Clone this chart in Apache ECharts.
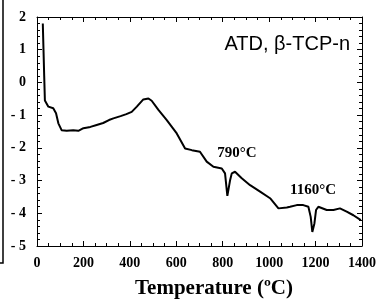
<!DOCTYPE html>
<html><head><meta charset="utf-8">
<script src="https://cdn.jsdelivr.net/npm/echarts@6/dist/echarts.min.js"></script>
<style>html,body{margin:0;padding:0;background:#fff}#c{width:384px;height:299px}</style>
</head><body><div id="c"></div>
<script>
const temps = [25,28,31,34,49,70,82,92,106,128,156,178,200,230,257,285,310,329,360,385,408,430,458,480,494,523,559,602,638,667,702,731,760,796,810,820,832,839,853,882,918,961,1004,1040,1076,1090,1119,1147,1169,1179,1186,1195,1202,1212,1248,1277,1305,1334,1363,1395];
const dta =   [1.8,1.0,0.2,-0.55,-0.74,-0.79,-0.94,-1.25,-1.46,-1.48,-1.46,-1.48,-1.40,-1.36,-1.30,-1.24,-1.15,-1.10,-1.03,-0.97,-0.90,-0.74,-0.52,-0.49,-0.56,-0.84,-1.15,-1.56,-2.02,-2.07,-2.12,-2.42,-2.58,-2.63,-2.78,-3.47,-2.98,-2.78,-2.73,-2.93,-3.14,-3.34,-3.54,-3.85,-3.82,-3.80,-3.75,-3.75,-3.80,-4.11,-4.57,-4.31,-3.90,-3.80,-3.90,-3.90,-3.85,-3.95,-4.06,-4.21];
const xTicks = [0,200,400,600,800,1000,1200,1400];
const yTicks = [-5,-4,-3,-2,-1,0,1,2];
const annotations = [{text:'790\u00B0C', x:237, y:153},{text:'1160\u00B0C', x:313, y:190}];
const label = 'ATD, \u03B2-TCP-n';
const axisTitle = 'Temperature (\u00BAC)';

const chart = echarts.init(document.getElementById('c'));
const serif = 'Liberation Serif';
const tickStyle = {show:true, inside:true, length:5, lineStyle:{color:'#000', width:1}};
const minorStyle = {show:true, length:3, lineStyle:{color:'#000', width:1}};
const line = {show:true, onZero:false, lineStyle:{color:'#000', width:1}};
chart.setOption({
  animation:false,
  grid:{left:37, right:22, top:17, bottom:53},
  xAxis:[
    {type:'value', min:xTicks[0], max:xTicks[xTicks.length-1], interval:200, position:'bottom',
     axisLine:line, axisTick:tickStyle,
     minorTick:Object.assign({splitNumber:4}, minorStyle), splitLine:{show:false},
     axisLabel:{color:'#000', fontFamily:serif, fontWeight:'bold', fontSize:14, margin:10, formatter:v=>String(v)}},
    {type:'value', min:xTicks[0], max:xTicks[xTicks.length-1], interval:200, position:'top',
     axisLine:line, axisTick:tickStyle,
     minorTick:Object.assign({splitNumber:4}, minorStyle), splitLine:{show:false}, axisLabel:{show:false}}
  ],
  yAxis:[
    {type:'value', min:yTicks[0], max:yTicks[yTicks.length-1], interval:1, position:'left',
     axisLine:line, axisTick:tickStyle,
     minorTick:Object.assign({splitNumber:5}, minorStyle), splitLine:{show:false},
     axisLabel:{color:'#000', fontFamily:serif, fontWeight:'bold', fontSize:14, margin:11,
       formatter:v => v < 0 ? '- ' + Math.abs(v) : String(v)}},
    {type:'value', min:yTicks[0], max:yTicks[yTicks.length-1], interval:1, position:'right',
     axisLine:line, axisTick:tickStyle,
     minorTick:Object.assign({splitNumber:5}, minorStyle), splitLine:{show:false}, axisLabel:{show:false}}
  ],
  series:[{type:'line', xAxisIndex:0, yAxisIndex:0, data:temps.map((t,i)=>[t,dta[i]]),
    showSymbol:false, lineStyle:{color:'#000', width:2}, smooth:false}],
  graphic:[
    {type:'polyline', shape:{points:[[3,0],[3,263],[0,263]]}, style:{stroke:'#000', lineWidth:1.5, fill:null}},
    {type:'text', x:350, y:44, style:{text:label, font:'20px "Liberation Sans"', fill:'#000', textAlign:'right', textVerticalAlign:'middle'}},
    ...annotations.map(a => ({type:'text', x:a.x, y:a.y, style:{text:a.text, font:'bold 15px "Liberation Serif"', fill:'#000', textAlign:'center', textVerticalAlign:'middle'}})),
    {type:'text', x:214, y:289, style:{text:axisTitle, font:'bold 21px "Liberation Serif"', fill:'#000', textAlign:'center', textVerticalAlign:'middle'}}
  ]
});
</script></body></html>
